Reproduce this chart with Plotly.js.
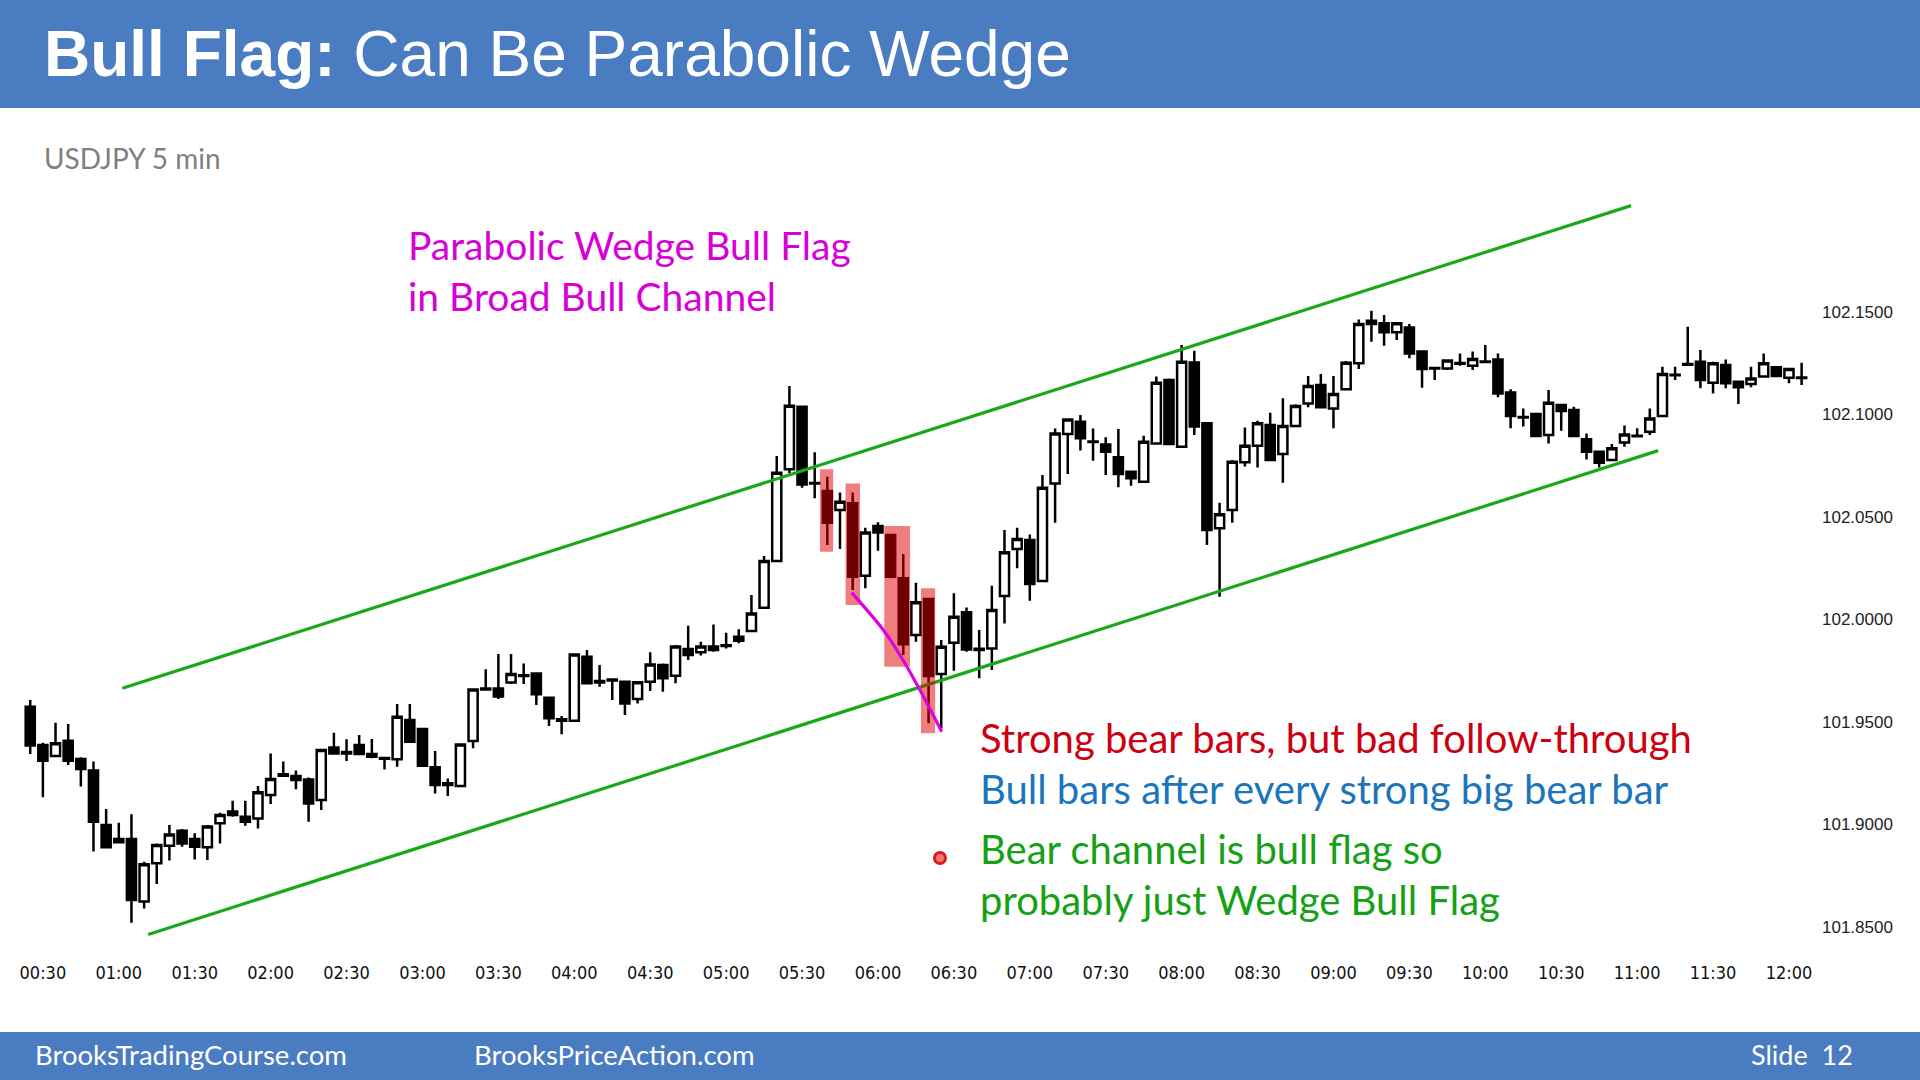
<!DOCTYPE html>
<html>
<head>
<meta charset="utf-8">
<script src="https://cdn.plot.ly/plotly-3.0.1.min.js"></script>
<style>
  html, body { margin: 0; padding: 0; background: #ffffff; }
  #chart { width: 1920px; height: 1080px; }
</style>
</head>
<body>
<div id="chart"></div>
<script>
// ---------------- DATA ----------------
const sessionDate = '2016-06-01';
const firstBarTime = '00:25';
const barMinutes = 5;

const opens = [
  101.9575,101.9388,101.9334,101.9409,101.9320,101.9263,101.8998,101.8913,101.8929,101.8624,
  101.8811,101.8897,101.8970,101.8929,101.8889,101.9006,101.9047,101.9038,101.9030,101.9144,
  101.9245,101.9237,101.9220,101.9120,101.9376,101.9354,101.9388,101.9344,101.9324,101.9318,
  101.9510,101.9466,101.9279,101.9201,101.9188,101.9407,101.9663,101.9664,101.9693,101.9728,
  101.9737,101.9619,101.9513,101.9506,101.9819,101.9700,101.9707,101.9697,101.9612,101.9697,
  101.9778,101.9726,101.9856,101.9840,101.9868,101.9874,101.9916,101.9944,102.0058,102.0285,
  102.0733,102.1038,102.0666,102.0627,102.0534,102.0567,102.0214,102.0456,102.0412,102.0201,
  101.9924,102.0100,101.9734,101.9887,102.0035,101.9858,101.9859,102.0115,102.0344,102.0388,
  102.0188,102.0664,102.0905,102.0965,102.0869,102.0854,102.0791,102.0721,102.0672,102.0859,
  102.1168,102.0843,102.1254,102.0957,102.0445,102.0534,102.0767,102.0848,102.0949,102.0807,
  102.0944,102.1054,102.1144,102.1030,102.1123,102.1250,102.1441,102.1445,102.1401,102.1425,
  102.1307,102.1227,102.1225,102.1251,102.1238,102.1259,102.1269,102.1107,102.0988,102.1002,
  102.0900,102.1046,102.1022,102.0879,102.0819,102.0778,102.0864,102.0897,102.0916,102.0993,
  102.1194,102.1246,102.1258,102.1155,102.1241,102.1160,102.1149,102.1185,102.1230,102.1180,
  102.1181
];
const highs = [
  101.9607,101.9399,101.9497,101.9490,101.9328,101.9307,101.9076,101.9009,101.9050,101.8819,
  101.8908,101.8998,101.8978,101.8957,101.8998,101.9058,101.9116,101.9116,101.9188,101.9347,
  101.9307,101.9263,101.9229,101.9367,101.9448,101.9416,101.9437,101.9417,101.9326,101.9588,
  101.9588,101.9466,101.9359,101.9225,101.9396,101.9659,101.9757,101.9832,101.9832,101.9786,
  101.9741,101.9624,101.9529,101.9832,101.9851,101.9778,101.9710,101.9702,101.9697,101.9840,
  101.9786,101.9876,101.9970,101.9892,101.9976,101.9936,101.9952,102.0120,102.0310,102.0798,
  102.1139,102.1038,102.0816,102.0697,102.0620,102.0620,102.0448,102.0474,102.0415,102.0320,
  102.0180,102.0103,101.9900,102.0128,102.0059,101.9949,102.0165,102.0437,102.0448,102.0415,
  102.0705,102.0932,102.0981,102.0998,102.0932,102.0889,102.0929,102.0726,102.0897,102.1185,
  102.1176,102.1339,102.1311,102.0957,102.0570,102.0778,102.0937,102.0970,102.1009,102.1079,
  102.1050,102.1188,102.1198,102.1188,102.1261,102.1464,102.1506,102.1485,102.1448,102.1441,
  102.1310,102.1233,102.1266,102.1298,102.1307,102.1339,102.1298,102.1123,102.1030,102.1006,
  102.1120,102.1051,102.1038,102.0908,102.0824,102.0856,102.0946,102.0933,102.1030,102.1233,
  102.1233,102.1428,102.1315,102.1258,102.1269,102.1163,102.1233,102.1298,102.1233,102.1225,
  102.1253
];
const lows = [
  101.9344,101.9133,101.9331,101.9290,101.9185,101.8868,101.8884,101.8908,101.8521,101.8591,
  101.8710,101.8824,101.8892,101.8830,101.8827,101.8908,101.9038,101.8994,101.8981,101.9100,
  101.9233,101.9172,101.9014,101.9071,101.9344,101.9310,101.9339,101.9323,101.9269,101.9282,
  101.9399,101.9282,101.9152,101.9139,101.9188,101.9372,101.9656,101.9612,101.9685,101.9685,
  101.9583,101.9481,101.9441,101.9506,101.9685,101.9672,101.9607,101.9534,101.9591,101.9651,
  101.9648,101.9689,101.9803,101.9824,101.9843,101.9859,101.9884,101.9941,102.0054,102.0282,
  102.0713,102.0643,102.0591,102.0363,102.0344,102.0144,102.0152,102.0336,102.0201,101.9827,
  101.9892,101.9494,101.9469,101.9750,101.9843,101.9713,101.9754,101.9981,102.0250,102.0092,
  102.0185,102.0472,102.0710,102.0824,102.0775,102.0705,102.0645,102.0653,102.0672,102.0856,
  102.0854,102.0840,102.0900,102.0363,102.0111,102.0472,102.0746,102.0742,102.0775,102.0667,
  102.0941,102.1035,102.1030,102.0933,102.1120,102.1222,102.1355,102.1336,102.1363,102.1274,
  102.1131,102.1168,102.1217,102.1238,102.1217,102.1253,102.1084,102.0933,102.0941,102.0892,
  102.0859,102.0921,102.0892,102.0781,102.0742,102.0773,102.0843,102.0892,102.0900,102.0989,
  102.1168,102.1240,102.1128,102.1103,102.1128,102.1051,102.1133,102.1181,102.1185,102.1152,
  102.1144
];
const closes = [
  101.9385,101.9311,101.9396,101.9311,101.9271,101.9014,101.8889,101.8929,101.8632,101.8806,
  101.8900,101.8952,101.8908,101.8892,101.8990,101.9047,101.9063,101.9014,101.9157,101.9222,
  101.9238,101.9217,101.9103,101.9363,101.9347,101.9347,101.9344,101.9331,101.9321,101.9526,
  101.9404,101.9287,101.9193,101.9193,101.9391,101.9659,101.9659,101.9624,101.9734,101.9724,
  101.9635,101.9518,101.9506,101.9830,101.9689,101.9693,101.9703,101.9591,101.9694,101.9781,
  101.9713,101.9868,101.9827,101.9868,101.9851,101.9871,101.9897,102.0030,102.0285,102.0716,
  102.1043,102.0659,102.0663,102.0472,102.0575,102.0209,102.0425,102.0424,102.0209,101.9880,
  102.0084,101.9724,101.9867,102.0014,101.9854,101.9851,102.0046,102.0328,102.0393,102.0173,
  102.0643,102.0908,102.0976,102.0884,102.0866,102.0819,102.0710,102.0689,102.0867,102.1155,
  102.0856,102.1258,102.0941,102.0437,102.0513,102.0770,102.0848,102.0957,102.0778,102.0944,
  102.1041,102.1139,102.1035,102.1100,102.1253,102.1441,102.1458,102.1401,102.1445,102.1298,
  102.1222,102.1224,102.1263,102.1248,102.1271,102.1256,102.1103,102.0993,102.0985,102.0895,
  102.1058,102.1017,102.0895,102.0819,102.0765,102.0835,102.0903,102.0894,102.0981,102.1198,
  102.1191,102.1243,102.1168,102.1250,102.1152,102.1133,102.1176,102.1250,102.1188,102.1222,
  102.1178
];

const xTickLabels = ['00:30','01:00','01:30','02:00','02:30','03:00','03:30','04:00','04:30','05:00',
  '05:30','06:00','06:30','07:00','07:30','08:00','08:30','09:00','09:30','10:00','10:30','11:00','11:30','12:00'];
const yTickValues = [101.85, 101.90, 101.95, 102.00, 102.05, 102.10, 102.15];

// channel lines (time, price)
const upperChannelTimes = ['01:01:24', '10:57:36'];
const upperChannelPrices = [101.9665, 102.2019];
const lowerChannelTimes = ['01:11:36', '11:08:18'];
const lowerChannelPrices = [101.8464, 102.0824];

// parabolic wedge (magenta) line
const wedgeTimes = ['05:49:36', '06:02:06', '06:08:42', '06:16:36', '06:25:12'];
const wedgePrices = [102.0131, 101.9949, 101.9827, 101.9656, 101.9453];

// highlighted strong bear bars
const boxStartTimes = ['05:37:06', '05:47:12', '06:02:30', '06:17:00'];
const boxEndTimes   = ['05:42:18', '05:52:54', '06:12:42', '06:22:36'];
const boxHighs = [102.0733, 102.0664, 102.0456, 102.0152];
const boxLows  = [102.0331, 102.0071, 101.9770, 101.9445];

// pointer dot
const pointerTime = ['06:24:30'];
const pointerPrice = [101.8837];

// ---------------- BUILD ----------------
const [h0, m0] = firstBarTime.split(':').map(Number);
const startMinutes = h0 * 60 + m0;
const pad = n => String(n).padStart(2, '0');
const times = opens.map((_, i) => {
  const m = startMinutes + i * barMinutes;
  return `${sessionDate} ${pad(Math.floor(m / 60))}:${pad(m % 60)}`;
});
const t = s => `${sessionDate} ${s}`;

const plotLeft = 22, plotRight = 1812, plotTop = 180, plotBottom = 950;
const px2x = X => (X - plotLeft) / (plotRight - plotLeft);
const px2y = Y => (plotBottom - Y) / (plotBottom - plotTop);

const traces = [];
traces.push({
  type: 'candlestick',
  x: times, open: opens, high: highs, low: lows, close: closes,
  increasing: { line: { color: '#000000', width: 2.5 }, fillcolor: '#ffffff' },
  decreasing: { line: { color: '#000000', width: 2.5 }, fillcolor: '#000000' },
  whiskerwidth: 0,
  hoverinfo: 'none',
  showlegend: false
});
const green = '#1AA81A';
traces.push({ type: 'scatter', mode: 'lines', x: upperChannelTimes.map(t), y: upperChannelPrices,
  line: { color: green, width: 3.2 }, hoverinfo: 'skip', showlegend: false });
traces.push({ type: 'scatter', mode: 'lines', x: lowerChannelTimes.map(t), y: lowerChannelPrices,
  line: { color: green, width: 3.2 }, hoverinfo: 'skip', showlegend: false });
for (let i = 0; i < boxStartTimes.length; i++) {
  traces.push({
    type: 'scatter', mode: 'lines', fill: 'toself',
    x: [t(boxStartTimes[i]), t(boxEndTimes[i]), t(boxEndTimes[i]), t(boxStartTimes[i]), t(boxStartTimes[i])],
    y: [boxLows[i], boxLows[i], boxHighs[i], boxHighs[i], boxLows[i]],
    fillcolor: 'rgba(224,0,0,0.5)', line: { width: 0 }, hoverinfo: 'skip', showlegend: false
  });
}
traces.push({ type: 'scatter', mode: 'lines', x: wedgeTimes.map(t), y: wedgePrices,
  line: { color: '#E000E0', width: 3.2, shape: 'spline' }, hoverinfo: 'skip', showlegend: false });
traces.push({ type: 'scatter', mode: 'markers', x: pointerTime.map(t), y: pointerPrice,
  marker: { size: 11, color: '#F07878', line: { color: '#E01818', width: 3 } }, hoverinfo: 'skip', showlegend: false });

const bodyFont = 'Lato, Calibri, sans-serif';
function ann(text, X, Y, size, color, family, extra) {
  return Object.assign({
    text: text, xref: 'paper', yref: 'paper', x: px2x(X), y: px2y(Y),
    xanchor: 'left', yanchor: 'middle', showarrow: false,
    font: { family: family || bodyFont, size: size, color: color }
  }, extra || {});
}

const annotations = [
  ann('<b>Bull Flag:</b> Can Be Parabolic Wedge', 41.5, 54, 64, '#ffffff', "'Liberation Sans', Arial, sans-serif"),
  ann('USDJPY 5 min', 42, 158, 28, '#7f7f7f'),
  ann('Parabolic Wedge Bull Flag', 405.5, 245, 39, '#D800D8'),
  ann('in Broad Bull Channel', 405.5, 296, 39, '#D800D8'),
  ann('Strong bear bars, but bad follow-through', 977.5, 738, 40, '#CC0010'),
  ann('Bull bars after every strong big bear bar', 977.5, 789, 40, '#1B75BB'),
  ann('Bear channel is bull flag so', 977.5, 849, 40, '#16A016'),
  ann('probably just Wedge Bull Flag', 977.5, 900, 40, '#16A016'),
  ann('BrooksTradingCourse.com', 33, 1054, 27.5, '#ffffff'),
  ann('BrooksPriceAction.com', 472, 1054, 27.5, '#ffffff'),
  ann('Slide  12', 1749, 1054, 27, '#ffffff')
];

const headerBlue = '#4A7CC2';
const shapes = [
  { type: 'rect', xref: 'paper', yref: 'paper', x0: px2x(0), x1: px2x(1920), y0: px2y(108), y1: px2y(0),
    fillcolor: headerBlue, line: { width: 0 }, layer: 'below' },
  { type: 'rect', xref: 'paper', yref: 'paper', x0: px2x(0), x1: px2x(1920), y0: px2y(1080), y1: px2y(1032),
    fillcolor: headerBlue, line: { width: 0 }, layer: 'below' }
];

const layout = {
  width: 1920, height: 1080,
  margin: { l: plotLeft, r: 1920 - plotRight, t: plotTop, b: 1080 - plotBottom, pad: 0 },
  paper_bgcolor: '#ffffff', plot_bgcolor: '#ffffff',
  showlegend: false,
  boxgap: 0.28, boxgroupgap: 0,
  xaxis: {
    type: 'date',
    range: [t('00:21:45'), t('12:09:06')],
    tickvals: xTickLabels.map(t), ticktext: xTickLabels,
    showgrid: false, zeroline: false, showline: false, ticks: '',
    ticklabelstandoff: 10,
    tickfont: { family: "'Liberation Sans Narrow', 'DejaVu Sans Condensed', Arial, sans-serif", size: 18, color: '#111111' },
    rangeslider: { visible: false },
    fixedrange: true
  },
  yaxis: {
    side: 'right',
    range: [101.8388, 102.2144],
    tickvals: yTickValues, tickformat: '.4f',
    showgrid: false, zeroline: false, showline: false, ticks: '',
    ticklabelstandoff: 9,
    tickfont: { family: "'Liberation Sans', Arial, sans-serif", size: 17, color: '#222222' },
    fixedrange: true
  },
  annotations: annotations,
  shapes: shapes,
  hovermode: false
};

Plotly.newPlot('chart', traces, layout, { staticPlot: true, displayModeBar: false });
</script>
</body>
</html>
